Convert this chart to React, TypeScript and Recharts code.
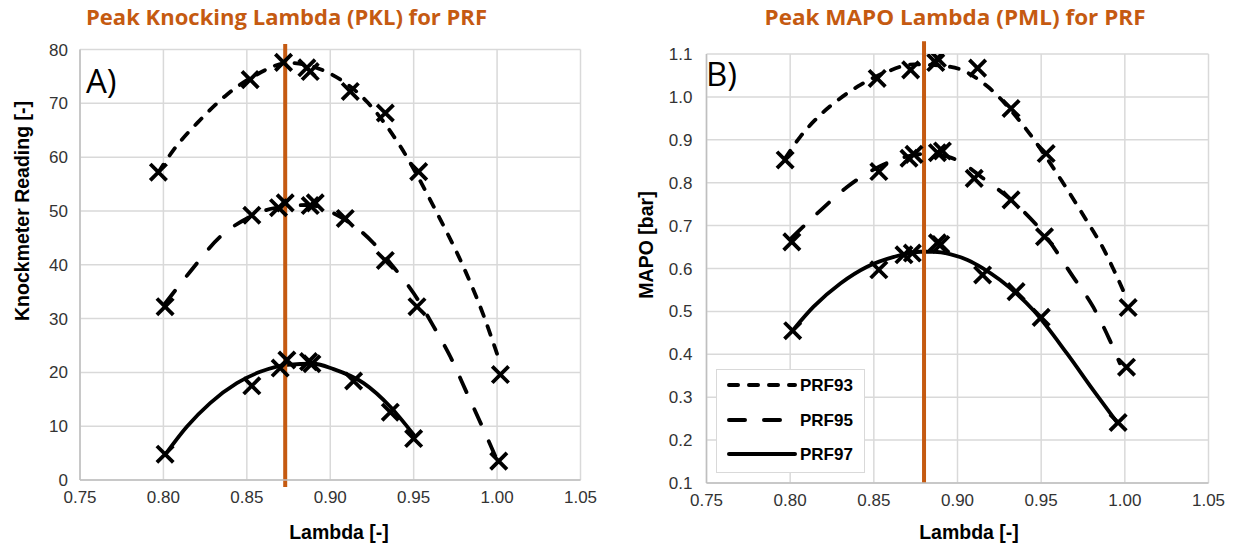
import React from 'react';
import { ComposedChart, Line, Scatter, XAxis, YAxis, CartesianGrid, ReferenceLine, Legend } from 'recharts';

// ---------- data ----------
const seriesNames = ['PRF93', 'PRF95', 'PRF97'];
const xTicks = [0.75, 0.8, 0.85, 0.9, 0.95, 1.0, 1.05];
const knockTicks = [0, 10, 20, 30, 40, 50, 60, 70, 80];
const mapoTicks = [0.1, 0.2, 0.3, 0.4, 0.5, 0.6, 0.7, 0.8, 0.9, 1.0, 1.1];
const pklLambda = 0.873;
const pmlLambda = 0.88;

// Panel A – knockmeter reading (measured points)
const knock93 = [[0.797, 57.2], [0.852, 74.4], [0.872, 77.6], [0.886, 76.6], [0.888, 75.9], [0.912, 72.2], [0.933, 68.2], [0.953, 57.3], [1.002, 19.6]];
const knock95 = [[0.801, 32.2], [0.853, 49.2], [0.869, 50.6], [0.873, 51.5], [0.888, 51.0], [0.891, 51.5], [0.909, 48.6], [0.933, 40.8], [0.952, 32.2], [1.001, 3.5]];
const knock97 = [[0.801, 4.8], [0.853, 17.5], [0.870, 20.8], [0.874, 22.3], [0.887, 22.0], [0.889, 21.6], [0.914, 18.4], [0.936, 12.6], [0.950, 7.7]];
// Panel A – trend lines
const knock93Trend = [[0.797, 57.2], [0.806, 61.3], [0.822, 66.9], [0.838, 71.6], [0.854, 75.0], [0.875, 77.5], [0.900, 75.5], [0.922, 70.3], [0.942, 62.0], [0.964, 49.6], [0.980, 39.5], [0.992, 30.5], [1.001, 22.5]];
const knock95Trend = [[0.801, 32.8], [0.816, 38.7], [0.834, 45.2], [0.850, 48.6], [0.866, 50.5], [0.886, 51.1], [0.906, 48.9], [0.926, 44.0], [0.936, 40.3], [0.950, 34.7], [0.962, 28.5], [0.972, 22.9], [0.982, 16.1], [0.992, 9.3], [0.999, 4.4]];
const knock97Trend = [[0.8015, 4.9], [0.814, 9.9], [0.828, 14.3], [0.844, 18.0], [0.858, 20.1], [0.874, 21.4], [0.890, 21.6], [0.902, 20.6], [0.920, 18.0], [0.936, 13.6], [0.950, 8.4]];

// Panel B – MAPO (measured points)
const mapo93 = [[0.797, 0.853], [0.852, 1.043], [0.872, 1.063], [0.887, 1.080], [0.888, 1.090], [0.912, 1.067], [0.932, 0.973], [0.953, 0.868], [1.002, 0.509]];
const mapo95 = [[0.801, 0.662], [0.853, 0.826], [0.871, 0.857], [0.874, 0.866], [0.888, 0.870], [0.891, 0.874], [0.910, 0.810], [0.932, 0.760], [0.952, 0.674], [1.001, 0.370]];
const mapo97 = [[0.8015, 0.455], [0.853, 0.597], [0.868, 0.632], [0.873, 0.636], [0.888, 0.660], [0.890, 0.656], [0.915, 0.585], [0.935, 0.546], [0.950, 0.486], [0.996, 0.241]];
// Panel B – trend lines
const mapo93Trend = [[0.797, 0.857], [0.806, 0.907], [0.818, 0.958], [0.830, 0.997], [0.842, 1.028], [0.858, 1.059], [0.874, 1.076], [0.896, 1.070], [0.918, 1.024], [0.941, 0.925], [0.963, 0.800], [0.979, 0.700], [0.986, 0.655], [0.993, 0.600], [1.000, 0.540]];
const mapo95Trend = [[0.801, 0.672], [0.818, 0.735], [0.834, 0.790], [0.850, 0.831], [0.866, 0.857], [0.880, 0.867], [0.894, 0.861], [0.904, 0.843], [0.914, 0.814], [0.9355, 0.748], [0.951, 0.684], [0.969, 0.581], [0.981, 0.511], [0.991, 0.433], [0.997, 0.379]];
const mapo97Trend = [[0.802, 0.458], [0.814, 0.511], [0.830, 0.565], [0.846, 0.604], [0.862, 0.627], [0.878, 0.639], [0.886, 0.639], [0.896, 0.633], [0.906, 0.620], [0.915, 0.601], [0.9255, 0.573], [0.9455, 0.502], [0.9654, 0.402], [0.981, 0.317], [0.995, 0.243]];

// ---------- helpers ----------
const toPts = (a: number[][]) => a.map(([x, y]) => ({ x, y }));
const ORANGE = '#C55A11';
const GRID = '#D9D9D9';
const AXIS = '#BFBFBF';
const SANS = '"Liberation Sans", Arial, sans-serif';
const TITLE_FONT = '"Open Sans", "Noto Sans", sans-serif';
const dashes = ['9 11', '16 19', undefined];
const tickStyle = { fill: '#333', fontSize: 17, fontFamily: SANS };

const XMark = (props: any) => {
  const { cx, cy } = props;
  if (cx == null || cy == null) return null;
  const r = 8.2;
  return (
    <path
      d={`M${cx - r},${cy - r}L${cx + r},${cy + r}M${cx - r},${cy + r}L${cx + r},${cy - r}`}
      stroke="#000"
      strokeWidth={3.8}
      fill="none"
    />
  );
};

const LegendBox = () => (
  <div style={{ width: 149, height: 104, border: `1.5px solid ${GRID}`, background: '#fff', boxSizing: 'border-box' }}>
    <svg width={146} height={101}>
      {seriesNames.map((n, i) => {
        const y = [15, 50, 84][i];
        return (
          <g key={n}>
            <line x1={12} x2={78} y1={y} y2={y} stroke="#000" strokeWidth={4} strokeLinecap="round" strokeDasharray={dashes[i]} />
            <text x={83} y={y + 6} fontFamily={SANS} fontWeight="bold" fontSize={17} fill="#000">{n}</text>
          </g>
        );
      })}
    </svg>
  </div>
);

function renderSeries(trends: number[][][], marks: number[][][]) {
  const out: any[] = [];
  trends.forEach((t, i) => {
    out.push(
      <Line
        key={'t' + i}
        data={toPts(t)}
        dataKey="y"
        type="monotone"
        stroke="#000"
        strokeWidth={3.8}
        strokeLinecap="round"
        strokeDasharray={dashes[i]}
        dot={false}
        activeDot={false}
        isAnimationActive={false}
        legendType="none"
        name={seriesNames[i] + ' trend'}
      />
    );
  });
  marks.forEach((m, i) => {
    out.push(
      <Scatter key={'m' + i} data={toPts(m)} dataKey="y" shape={XMark} isAnimationActive={false} legendType="none" name={seriesNames[i]} />
    );
  });
  return out;
}

export default function App() {
  return (
    <div style={{ position: 'absolute', left: 0, top: 0, width: 1233, height: 546, background: '#fff', overflow: 'hidden' }}>
      {/* Panel A */}
      <div style={{ position: 'absolute', left: 0, top: 0 }}>
        <ComposedChart width={600} height={546} margin={{ top: 49.5, right: 19.5, bottom: 36, left: 0 }}>
          <CartesianGrid stroke={GRID} strokeWidth={1.5} />
          <XAxis
            type="number"
            dataKey="x"
            domain={[0.75, 1.05]}
            ticks={xTicks}
            interval={0}
            allowDataOverflow
            tickFormatter={(v: number) => v.toFixed(2)}
            tick={tickStyle}
            tickLine={false}
            tickSize={0}
            tickMargin={11}
            height={30}
            axisLine={{ stroke: AXIS, strokeWidth: 1.5 }}
          />
          <YAxis
            type="number"
            dataKey="y"
            domain={[0, 80]}
            ticks={knockTicks}
            interval={0}
            allowDataOverflow
            tick={tickStyle}
            tickLine={false}
            tickSize={0}
            tickMargin={12}
            width={80}
            axisLine={{ stroke: AXIS, strokeWidth: 1.5 }}
          />
          {renderSeries([knock93Trend, knock95Trend, knock97Trend], [knock93, knock95, knock97])}
          <ReferenceLine
            segment={[{ x: pklLambda, y: 81 }, { x: pklLambda, y: -1.3 }]}
            stroke={ORANGE}
            strokeWidth={4}
            ifOverflow="visible"
          />
        </ComposedChart>
      </div>

      {/* Panel B */}
      <div style={{ position: 'absolute', left: 620, top: 0 }}>
        <ComposedChart width={613} height={546} margin={{ top: 54, right: 24.5, bottom: 33, left: 0 }}>
          <CartesianGrid stroke={GRID} strokeWidth={1.5} />
          <XAxis
            type="number"
            dataKey="x"
            domain={[0.75, 1.05]}
            ticks={xTicks}
            interval={0}
            allowDataOverflow
            tickFormatter={(v: number) => v.toFixed(2)}
            tick={tickStyle}
            tickLine={false}
            tickSize={0}
            tickMargin={11}
            height={30}
            axisLine={{ stroke: AXIS, strokeWidth: 1.5 }}
          />
          <YAxis
            type="number"
            dataKey="y"
            domain={[0.1, 1.1]}
            ticks={mapoTicks}
            interval={0}
            allowDataOverflow
            tickFormatter={(v: number) => v.toFixed(1)}
            tick={tickStyle}
            tickLine={false}
            tickSize={0}
            tickMargin={14}
            width={86.5}
            axisLine={{ stroke: AXIS, strokeWidth: 1.5 }}
          />
          {renderSeries([mapo93Trend, mapo95Trend, mapo97Trend], [mapo93, mapo95, mapo97])}
          <ReferenceLine
            segment={[{ x: pmlLambda, y: 1.13 }, { x: pmlLambda, y: 0.1 }]}
            stroke={ORANGE}
            strokeWidth={4}
            ifOverflow="visible"
          />
          <Legend
            layout="vertical"
            align="center"
            verticalAlign="middle"
            wrapperStyle={{ left: 96, top: 369, width: 149, height: 104 }}
            content={() => <LegendBox />}
          />
        </ComposedChart>
      </div>

      {/* Titles and labels */}
      <svg width={1233} height={546} style={{ position: 'absolute', left: 0, top: 0, pointerEvents: 'none' }}>
        <text x={286.5} y={25} textAnchor="middle" fontFamily={TITLE_FONT} fontWeight="bold" fontSize={21} fill={ORANGE} textLength={401} lengthAdjust="spacingAndGlyphs">
          Peak Knocking Lambda (PKL) for PRF
        </text>
        <text x={955} y={25} textAnchor="middle" fontFamily={TITLE_FONT} fontWeight="bold" fontSize={21} fill={ORANGE} textLength={381} lengthAdjust="spacingAndGlyphs">
          Peak MAPO Lambda (PML) for PRF
        </text>
        <text x={86} y={93} fontFamily={TITLE_FONT} fontSize={33} fill="#000">A)</text>
        <text x={706} y={86} fontFamily={TITLE_FONT} fontSize={33} fill="#000">B)</text>
        <text x={339} y={539} textAnchor="middle" fontFamily={SANS} fontWeight="bold" fontSize={19.5} fill="#000">Lambda [-]</text>
        <text x={969} y={539} textAnchor="middle" fontFamily={SANS} fontWeight="bold" fontSize={19.5} fill="#000">Lambda [-]</text>
        <text transform="translate(29,211) rotate(-90)" textAnchor="middle" fontFamily={SANS} fontWeight="bold" fontSize={19.5} fill="#000">Knockmeter Reading [-]</text>
        <text transform="translate(653,245) rotate(-90)" textAnchor="middle" fontFamily={SANS} fontWeight="bold" fontSize={19.5} fill="#000">MAPO [bar]</text>
      </svg>
    </div>
  );
}
